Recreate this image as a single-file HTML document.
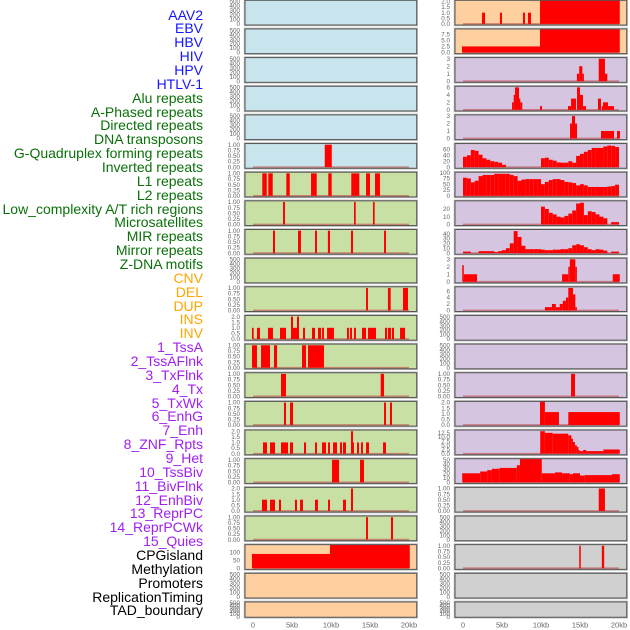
<!DOCTYPE html>
<html><head><meta charset="utf-8"><style>
html,body{margin:0;padding:0;background:#fff;width:630px;height:630px;overflow:hidden}
#wrap{position:relative;width:630px;height:630px;font-family:"Liberation Sans",sans-serif}
.lab{position:absolute;right:427px;font-size:14px;line-height:14px;white-space:nowrap;text-align:right}
svg{position:absolute;left:0;top:0}
</style></head><body>
<div id="wrap">
<div id="labels"></div>
<svg id="chart" width="630" height="630"></svg>
</div>
<script>
// ---- track labels ----
const trackNames = ["AAV2","EBV","HBV","HIV","HPV","HTLV-1","Alu repeats","A-Phased repeats","Directed repeats","DNA transposons","G-Quadruplex forming repeats","Inverted repeats","L1 repeats","L2 repeats","Low_complexity A/T rich regions","Microsatellites","MIR repeats","Mirror repeats","Z-DNA motifs","CNV","DEL","DUP","INS","INV","1_TssA","2_TssAFlnk","3_TxFlnk","4_Tx","5_TxWk","6_EnhG","7_Enh","8_ZNF_Rpts","9_Het","10_TssBiv","11_BivFlnk","12_EnhBiv","13_ReprPC","14_ReprPCWk","15_Quies","CPGisland","Methylation","Promoters","ReplicationTiming","TAD_boundary"];
const trackGroups = ["v","v","v","v","v","v","r","r","r","r","r","r","r","r","r","r","r","r","r","s","s","s","s","s","c","c","c","c","c","c","c","c","c","c","c","c","c","c","c","o","o","o","o","o"];

// ---- tick sets ----
const ticks500 = [0,100,200,300,400,500];
const ticks1 = [0,0.25,0.5,0.75,1];
const ticks2 = [0,0.5,1,1.5,2];
const ticks3 = [0,1,2,3];
const ticks6 = [0,2,4,6];
const ticks60 = [0,20,40,60];
const ticks100 = [0,25,50,75,100];
const ticks20 = [0,10,20];
const ticks40 = [0,10,20,30,40];
const ticks75 = [0,2.5,5,7.5];
const ticks125 = [0,2.5,5,7.5,10,12.5];
const ticks50 = [0,10,20,30,40,50];
const ticksCNV = [0,50,100];
const xTickVals = [0,5,10,15,20];
const xTickLabels = ["0","5kb","10kb","15kb","20kb"];

// ---- segment data [startKb, endKb, value] ----
const htlvSegs = [[9.2,10.1,1]];
const aluSegs = [[1.19,1.76,1],[1.96,2.53,1],[4.27,4.71,1],[7.44,8.17,1],[9.65,10.09,1],[12.6,13.63,1],[14.49,15.0,1],[15.64,16.28,1]];
const aphasedSegs = [[3.85,4.1,1],[12.95,13.17,1],[15.38,15.6,1]];
const directedSegs = [[2.56,2.82,1],[5.77,6.15,1],[7.95,8.2,1],[9.6,9.87,1],[12.56,12.82,1],[16.8,17.05,1]];
const gquadSegs = [[14.49,14.74,1],[17.3,17.65,1],[19.23,19.87,1]];
const invertedSegs = [[-0.13,0.09,1],[0.51,0.9,1],[1.92,2.56,1],[3.46,4.23,1],[4.87,5.13,2],[5.13,5.64,1],[5.64,5.9,2],[6.41,6.67,1],[7.56,7.95,1],[8.33,8.72,1],[8.85,9.1,1],[9.49,10.38,1],[12.05,12.3,1],[12.44,12.69,1],[12.95,13.2,1],[13.97,14.49,1],[14.74,15.77,1],[16.92,17.18,1],[17.3,17.69,1],[17.82,18.08,1],[18.85,19.49,1]];
const l1Segs = [[-0.13,0.51,1],[1.03,2.18,1],[2.69,3.08,1],[6.28,6.8,1],[7.05,9.1,1]];
const l2Segs = [[3.59,4.23,1],[16.37,16.8,1]];
const lowSegs = [[3.97,4.23,1],[4.74,5.13,1],[16.8,17.05,1],[17.56,17.82,1]];
const microSegs = [[1.28,1.8,1],[2.18,2.82,1],[3.59,4.49,1],[4.74,5.13,1],[6.54,6.8,1],[7.95,8.2,1],[8.85,9.36,1],[9.62,9.87,1],[10.26,10.77,1],[11.15,11.41,1],[11.54,11.92,1],[12.56,12.82,2],[12.82,12.95,1],[13.33,13.59,1],[13.85,14.1,1],[14.49,14.87,1],[16.67,17.05,1]];
const mirSegs = [[10.13,11.03,1],[13.72,14.23,1]];
const mirrorSegs = [[1.15,1.8,1],[2.18,2.82,1],[3.33,3.59,1],[5.38,5.64,1],[6.03,6.41,1],[7.95,8.33,1],[9.62,9.87,1],[11.54,11.92,1],[12.56,12.82,2]];
const zdnaSegs = [[14.49,14.74,1],[17.69,17.95,1]];
const cnvSegs = [[-0.13,9.87,89],[9.87,20.1,150]];
const insSegs = [[2.44,2.82,1],[4.74,5.0,1],[7.69,7.95,1],[8.33,8.72,1],[9.87,20.1,2.3]];
const invSegs = [[-0.13,9.87,2.5],[9.87,20.1,9.6]];
const tssaSegs = [[14.6,14.9,1],[14.9,15.3,2],[15.3,15.5,1],[17.4,18.2,3],[18.2,18.5,1]];
const tssaflnkSegs = [[6.28,6.5,2],[6.5,6.67,4],[6.67,7.18,6],[7.18,7.35,3],[7.35,7.6,2],[9.87,10.13,1],[13.46,13.85,1],[13.85,14.49,3],[14.62,15.0,6],[15.0,15.38,4],[15.38,15.77,1],[17.3,17.69,3],[17.8,17.95,1],[17.95,18.59,2],[18.59,19.36,1]];
const txflnkSegs = [[13.72,13.97,2],[13.97,14.36,3],[14.36,14.62,2],[17.69,19.36,1],[19.74,20.13,1]];
const znfSegs = [[-0.1,0.1,2.2],[0.1,1.8,1],[12.7,13.5,1],[13.5,13.7,2],[13.7,14.4,3],[14.4,14.6,2],[19.2,20.1,1]];
const hetSegs = [[10.5,11.4,1],[11.4,11.9,2],[11.9,12.4,1],[12.4,12.8,2],[12.8,13.2,3],[13.2,13.5,4],[13.5,14.1,7],[14.1,14.4,5],[14.4,14.6,1]];
const enhbivSegs = [[13.85,14.36,1]];
const reprpcSegs = [[9.87,10.5,2.3],[10.5,12.3,1.15],[13.5,20.1,1.15]];
const reprpcwkSegs = [[9.9,10.5,13.5],[10.5,11.5,12.5],[11.5,13.5,12],[13.5,13.9,11],[13.9,14.1,9],[14.1,14.35,7],[14.35,14.6,5],[14.6,14.8,4],[14.8,15.0,2],[15.0,15.4,1.5],[15.4,15.8,2.2],[15.8,18.0,1.5],[18.0,20.1,2.5]];
const quiesSegs = [[-0.1,2.2,20],[2.2,3.1,24],[3.1,3.7,27],[3.7,4.7,30],[4.7,6.9,32],[6.9,7.3,38],[7.3,10.1,52],[10.1,11.8,20],[11.8,12.7,22],[12.7,13.7,20],[13.7,14.1,18],[14.1,15.0,20],[15.0,15.6,15],[15.6,19.1,16],[19.1,20.1,18]];
const cpgSegs = [[17.4,18.2,1]];
const promoterSegs = [[14.9,15.1,1],[17.8,18.1,1]];

// ---- binned data (0.5kb bins) ----
const binStarts = [0,0.5,1,1.5,2,2.5,3,3.5,4,4.5,5,5.5,6,6.5,7,7.5,8,8.5,9,9.5,10,10.5,11,11.5,12,12.5,13,13.5,14,14.5,15,15.5,16,16.5,17,17.5,18,18.5,19,19.5];
const txVals = [35,40,58,55,42,30,25,20,18,15,8,0,0,0,0,0,0,0,0,0,30,32,25,22,16,15,15,20,15,38,45,52,58,65,65,65,70,73,72,68];
const txwkVals = [78,75,58,65,85,90,90,90,95,95,95,95,90,85,65,70,72,72,72,72,50,60,68,72,72,68,60,58,55,45,50,45,38,38,38,38,38,40,42,48];
const enhgVals = [0,0,0,0,0,0,0,0,0,0,0,0,0,0,0,0,0,0,0,0,23,20,15,13,10,9,11,14,18,27,28,12,17,16,13,10,8,0,3,3];
const enhVals = [3,3,0,0,4,4,4,4,2,4,6,10,20,45,33,15,8,8,8,8,7,6,6,7,7,8,8,10,16,18,16,12,8,6,8,7,5,0,3,3];

// ---- panel layout: [name, col, row, bg, ticks, decimals, ymax, segs, bins] ----
const BG = {v:"#c8e4ec", r:"#c9e0a5", s:"#fed09f", c:"#d5c5e1", o:"#d0d0d0"};
const panels = [
 ["aav2-track",0,0,"v",ticks500,0,500,null,null],
 ["ebv-track",0,1,"v",ticks500,0,500,null,null],
 ["hbv-track",0,2,"v",ticks500,0,500,null,null],
 ["hiv-track",0,3,"v",ticks500,0,500,null,null],
 ["hpv-track",0,4,"v",ticks500,0,500,null,null],
 ["htlv1-track",0,5,"v",ticks1,2,1,htlvSegs,null],
 ["alu-track",0,6,"r",ticks1,2,1,aluSegs,null],
 ["aphased-track",0,7,"r",ticks1,2,1,aphasedSegs,null],
 ["directed-track",0,8,"r",ticks1,2,1,directedSegs,null],
 ["dna-transposons-track",0,9,"r",ticks500,0,500,null,null],
 ["gquad-track",0,10,"r",ticks1,2,1,gquadSegs,null],
 ["inverted-track",0,11,"r",ticks2,1,2,invertedSegs,null],
 ["l1-track",0,12,"r",ticks1,2,1,l1Segs,null],
 ["l2-track",0,13,"r",ticks1,2,1,l2Segs,null],
 ["low-complexity-track",0,14,"r",ticks1,2,1,lowSegs,null],
 ["microsatellites-track",0,15,"r",ticks2,1,2,microSegs,null],
 ["mir-track",0,16,"r",ticks1,2,1,mirSegs,null],
 ["mirror-track",0,17,"r",ticks2,1,2,mirrorSegs,null],
 ["zdna-track",0,18,"r",ticks1,2,1,zdnaSegs,null],
 ["cnv-track",0,19,"s",ticksCNV,0,140,cnvSegs,null],
 ["del-track",0,20,"s",ticks500,0,500,null,null],
 ["dup-track",0,21,"s",ticks500,0,500,null,null],
 ["ins-track",1,0,"s",ticks2,1,2,insSegs,null],
 ["inv-track",1,1,"s",ticks75,1,9.2,invSegs,null],
 ["tssa-track",1,2,"c",ticks3,0,3,tssaSegs,null],
 ["tssaflnk-track",1,3,"c",ticks6,0,6,tssaflnkSegs,null],
 ["txflnk-track",1,4,"c",ticks3,0,3,txflnkSegs,null],
 ["tx-track",1,5,"c",ticks60,0,76,null,txVals],
 ["txwk-track",1,6,"c",ticks100,0,97,null,txwkVals],
 ["enhg-track",1,7,"c",ticks20,0,29,null,enhgVals],
 ["enh-track",1,8,"c",ticks40,0,46,null,enhVals],
 ["znf-track",1,9,"c",ticks3,0,3,znfSegs,null],
 ["het-track",1,10,"c",ticks6,0,7,hetSegs,null],
 ["tssbiv-track",1,11,"c",ticks500,0,500,null,null],
 ["bivflnk-track",1,12,"c",ticks500,0,500,null,null],
 ["enhbiv-track",1,13,"c",ticks1,2,1,enhbivSegs,null],
 ["reprpc-track",1,14,"c",ticks2,1,2,reprpcSegs,null],
 ["reprpcwk-track",1,15,"c",ticks125,1,13.5,reprpcwkSegs,null],
 ["quies-track",1,16,"c",ticks50,0,50,quiesSegs,null],
 ["cpgisland-track",1,17,"o",ticks1,2,1,cpgSegs,null],
 ["methylation-track",1,18,"o",ticks500,0,500,null,null],
 ["promoters-track",1,19,"o",ticks1,2,1,promoterSegs,null],
 ["replication-timing-track",1,20,"o",ticks500,0,500,null,null],
 ["tad-boundary-track",1,21,"o",ticks500,0,500,null,null]
];

// ---- draw labels ----
const COLORS = {v:"#1515ff", r:"#0a700a", s:"#ffa500", c:"#a020f0", o:"#000"};
const labWrap = document.getElementById("labels");
trackNames.forEach((t,i)=>{
  const d=document.createElement("div");
  d.className="lab";
  
  
  d.style.top=(15+13.86*i-7.5)+"px";
  d.style.color=COLORS[trackGroups[i]];
  d.textContent=t;
  labWrap.appendChild(d);
});

// ---- axes helpers ----
const NS="http://www.w3.org/2000/svg";
const svg=document.getElementById("chart");
const X0=[253,463], PXKB=7.8, PL=[245,455], PW=171.7;
function xScale(col,kb){return X0[col]+kb*PXKB;}
function rowTop(r){return 0.3+r*28.65;}
function rowH(r){return r===21?15.3:24.7;}
function yScale(r,M,v){const t=rowTop(r),h=rowH(r);return t+h-(v+0.05*M)/(1.1*M)*h;}
function mk(tag,attrs,parent){const e=document.createElementNS(NS,tag);for(const k in attrs)e.setAttribute(k,attrs[k]);(parent||svg).appendChild(e);return e;}

panels.forEach((p,pi)=>{
  const [name,col,row,bg,tk,dec,M,segs,bins]=p;
  const t=rowTop(row),h=rowH(row),l=PL[col];
  const g=mk("g",{});
  
  
  const cid="clip"+pi;
  const cp=mk("clipPath",{id:cid},g);
  mk("rect",{x:l,y:t,width:PW,height:h},cp);
  mk("rect",{x:l-0.5,y:t-0.5,width:PW+1,height:h+1,fill:"none",stroke:"#bbb","stroke-width":1.5},g);
  const bgr=mk("rect",{x:l,y:t,width:PW,height:h,fill:BG[bg]},g);
  
  
  const dg=mk("g",{"clip-path":"url(#"+cid+")"},g);
  const y0=yScale(row,M,0);
  let list=[];
  if(segs) list=segs;
  if(bins) list=binStarts.map((b,i)=>[b,b+0.5,bins[i]]);
  if(segs||bins){
    const bl=mk("line",{x1:xScale(col,0),x2:xScale(col,20),y1:y0,y2:y0,stroke:"rgba(190,70,70,0.6)","stroke-width":1.6},dg);
    
    
  }
  list.forEach(s=>{
    if(s[2]<=0) return;
    const x1=xScale(col,s[0]),x2=xScale(col,s[1]),yv=yScale(row,M,s[2]);
    const b=mk("rect",{x:x1,y:yv,width:Math.max(x2-x1,0.8),height:y0-yv,fill:"#ff0000"},dg);
    
    
  });
  mk("rect",{x:l,y:t,width:PW,height:h,fill:"none",stroke:"#555","stroke-width":1},g);
  tk.forEach(v=>{
    const tx=mk("text",{x:l-5,y:yScale(row,M,v)+2.2,"text-anchor":"end","font-size":"6.3","fill":"#666","font-family":"Liberation Sans, sans-serif"},g);
    
    
    tx.textContent=v.toFixed(dec);
  });
});

// ---- x axes ----
[0,1].forEach(col=>{
  xTickVals.forEach((v,i)=>{
    const tx=mk("text",{x:xScale(col,v),y:627.5,"text-anchor":"middle","font-size":"7.5","fill":"#666","font-family":"Liberation Sans, sans-serif"});
    
    
    tx.textContent=xTickLabels[i];
  });
});
</script>
</body></html>
